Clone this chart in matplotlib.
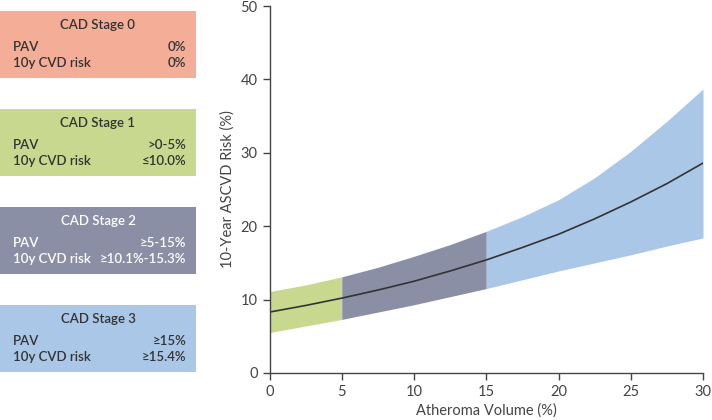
import numpy as np
import matplotlib.pyplot as plt
from matplotlib.patches import Rectangle

plt.rcParams['font.family'] = ['Lato', 'DejaVu Sans']

# atheroma volume (%) and 10-year ASCVD risk (%)
pav = [0, 2.5, 5, 7.5, 10, 12.5, 15, 17.5, 20, 22.5, 25, 27.5, 30]
risk = [8.3, 9.2, 10.2, 11.3, 12.5, 13.9, 15.4, 17.1, 18.9, 21.0, 23.3, 25.8, 28.6]
risk_hi = [11.1, 12.0, 13.1, 14.4, 15.9, 17.5, 19.3, 21.3, 23.6, 26.6, 30.2, 34.3, 38.7]
risk_lo = [5.5, 6.4, 7.3, 8.3, 9.3, 10.4, 11.5, 12.7, 13.9, 15.0, 16.1, 17.3, 18.4]

stages = ['CAD Stage 0', 'CAD Stage 1', 'CAD Stage 2', 'CAD Stage 3']
pav_txt = ['0%', '>0-5%', '≥5-15%', '≥15%']
cvd_txt = ['0%', '≤10.0%', '≥10.1%-15.3%', '≥15.4%']
stage_cols = ['#f4ae98', '#c8d98f', '#8a8fa6', '#aac7e8']
text_cols = ['#333333', '#333333', '#ffffff', '#333333']

x = np.array(pav)
hi = np.array(risk_hi)
lo = np.array(risk_lo)

fig = plt.figure(figsize=(7.12, 4.2), dpi=100)
W, H = 712, 420
ax = fig.add_axes([269.5 / W, 1 - 373 / H, (703 - 269.5) / W, (373 - 6) / H])

# shaded bands per stage
m1 = x <= 5
m2 = (x >= 5) & (x <= 15)
m3 = x >= 15
ax.fill_between(x[m1], lo[m1], hi[m1], color=stage_cols[1], lw=0)
ax.fill_between(x[m2], lo[m2], hi[m2], color=stage_cols[2], lw=0)
ax.fill_between(x[m3], lo[m3], hi[m3], color=stage_cols[3], lw=0)
ax.plot(pav, risk, color='#333333', lw=1.2)

ax.set_xlim(0, 30)
ax.set_ylim(0, 50)
ax.set_xticks(range(0, 31, 5))
ax.set_yticks(range(0, 51, 10))
for s in ['top', 'right']:
    ax.spines[s].set_visible(False)
for s in ['left', 'bottom']:
    ax.spines[s].set_color('#444444')
    ax.spines[s].set_linewidth(1.0)
ax.tick_params(colors='#444444', labelsize=10.5, length=5, width=1.0)
ax.set_xlabel('Atheroma Volume (%)', fontsize=10.5, color='#444444', labelpad=3)
ax.set_ylabel('10-Year ASCVD Risk (%)', fontsize=10.5, color='#444444', labelpad=4)

# stage boxes on the left
tops = [11, 109, 207, 305]
for i in range(4):
    t = tops[i]
    fig.patches.append(Rectangle((0, 1 - (t + 67) / H), 196 / W, 67 / H,
                                 transform=fig.transFigure, color=stage_cols[i], lw=0))
    c = text_cols[i]
    kw = dict(va='center', fontsize=9.5, color=c, fontweight='semibold')
    fig.text(98 / W, 1 - (t + 14) / H, stages[i], ha='center', **kw)
    fig.text(13 / W, 1 - (t + 36) / H, 'PAV', ha='left', **kw)
    fig.text(186 / W, 1 - (t + 36) / H, pav_txt[i], ha='right', **kw)
    fig.text(13 / W, 1 - (t + 52) / H, '10y CVD risk', ha='left', **kw)
    fig.text(186 / W, 1 - (t + 52) / H, cvd_txt[i], ha='right', **kw)

fig.savefig('out.png', dpi=100)
